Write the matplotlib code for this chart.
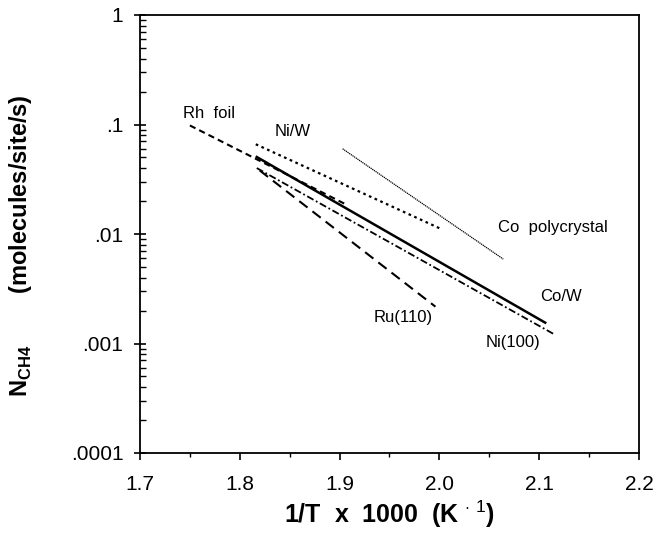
import matplotlib
matplotlib.use("Agg")
import matplotlib.pyplot as plt
from matplotlib.ticker import FixedLocator, FixedFormatter, LogLocator, NullFormatter

plt.rcParams['font.family'] = ['Liberation Sans', 'DejaVu Sans']
plt.rcParams['mathtext.fontset'] = 'custom'
plt.rcParams['mathtext.rm'] = 'Liberation Sans'
plt.rcParams['mathtext.bf'] = 'Liberation Sans:bold'

# rate lines: (1/T x 1000 start, end), (N_CH4 start, end)
names = ['Rh  foil', 'Ni/W', 'Co  polycrystal', 'Co/W', 'Ni(100)', 'Ru(110)']
x_start = [1.750, 1.816, 1.903, 1.817, 1.817, 1.820]
x_end = [1.907, 2.000, 2.064, 2.106, 2.116, 1.996]
y_start = [0.098, 0.066, 0.060, 0.0505, 0.040, 0.038]
y_end = [0.0185, 0.0113, 0.0059, 0.00155, 0.0012, 0.00217]

# label anchors (left edge, vertical centre)
label_x = [1.743, 1.835, 2.059, 2.101, 2.046, 1.934]
label_y = [0.127, 0.087, 0.0115, 0.00266, 0.00102, 0.00171]

x_ticks = [1.7, 1.8, 1.9, 2.0, 2.1, 2.2]
x_ticklabels = ['1.7', '1.8', '1.9', '2.0', '2.1', '2.2']
y_ticks = [1e-4, 1e-3, 1e-2, 1e-1, 1]
y_ticklabels = ['.0001', '.001', '.01', '.1', '1']

styles = [
    dict(ls=(0, (3, 2)), lw=1.5),
    dict(ls=(0, (1.2, 1.6)), lw=1.6),
    dict(ls=(0, (1, 0.6)), lw=0.9),
    dict(ls='-', lw=1.8),
    dict(ls=(0, (4, 1.5, 1, 1.5)), lw=1.3),
    dict(ls=(0, (5, 3)), lw=1.5),
]

fig = plt.figure(figsize=(6.57, 5.38), dpi=100)
ax = fig.add_axes([140 / 657, 1 - 453 / 538, 499 / 657, 438 / 538])

for i in range(len(names)):
    ax.plot([x_start[i], x_end[i]], [y_start[i], y_end[i]], color='black',
            linestyle=styles[i]['ls'], linewidth=styles[i]['lw'])
    ax.text(label_x[i], label_y[i], names[i], ha='left', va='center', fontsize=12)

ax.set_yscale('log')
ax.set_xlim(1.7, 2.2)
ax.set_ylim(1e-4, 1)

ax.xaxis.set_major_locator(FixedLocator(x_ticks))
ax.xaxis.set_major_formatter(FixedFormatter(x_ticklabels))
ax.xaxis.set_minor_locator(FixedLocator([1.75, 1.85, 1.95, 2.05, 2.15]))
ax.yaxis.set_major_locator(FixedLocator(y_ticks))
ax.yaxis.set_major_formatter(FixedFormatter(y_ticklabels))
ax.yaxis.set_minor_locator(LogLocator(base=10, subs=range(2, 10)))
ax.yaxis.set_minor_formatter(NullFormatter())

ax.tick_params(axis='x', which='major', direction='out', length=5, width=1.2,
               labelsize=15, pad=11)
ax.tick_params(axis='x', which='minor', direction='out', length=3, width=1.0)
ax.tick_params(axis='y', which='major', direction='inout', length=8, width=1.2,
               labelsize=15, pad=8)
ax.tick_params(axis='y', which='minor', direction='in', length=4, width=1.0)
for s in ax.spines.values():
    s.set_linewidth(1.3)

ax.set_xlabel(r'1/T  x  1000  (K $^{\cdot\ 1}$)', fontsize=18, fontweight='bold', labelpad=3)
fig.text(21 / 657, 1 - 246 / 538, r'N$_{\mathbf{CH4}}$        (molecules/site/s)',
         rotation=90, ha='center', va='center', fontsize=17, fontweight='bold')

fig.savefig('out.png', dpi=100)
